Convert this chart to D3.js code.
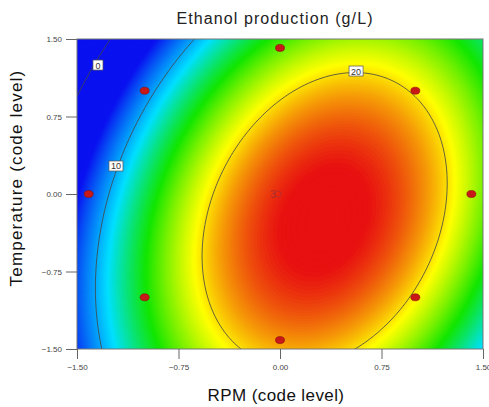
<!DOCTYPE html>
<html lang="en">
<head>
<meta charset="utf-8">
<title>Ethanol production contour</title>
<script src="https://cdn.jsdelivr.net/npm/d3@7"></script>
<style>
  body { margin: 0; background: #fff; }
  svg text { font-family: "Liberation Sans", Arial, sans-serif; }
</style>
</head>
<body>
<div id="chart"></div>
<script>
// quadratic response surface in coded units: [b0, b(RPM), b(Temp), b(RPM^2), b(Temp^2), b(RPM*Temp)]
var coefs = [23.17, 3.84, -1.59, -5.2, -2.1, 1.64];

// design points (RPM, Temp) in code level
var designX = [0, -1, 1, -1.414, 1.414, -1, 1, 0];
var designY = [1.414, 1, 1, 0, 0, -1, -1, -1.414];

var tickVals = [-1.5, -0.75, 0, 0.75, 1.5];
var lineLevels = [0, 10, 20];
var labelX = [-1.345, -1.212, 0.562];
var labelY = [1.248, 0.271, 1.19];
var colorStops = [6, 11.5, 15.5, 19.5, 23.5];
var colorRange = ["#0a12f0", "#00e0ff", "#12e600", "#ffff00", "#e81010"];

var w = 489, h = 407;
var plotL = 77, plotR = 483, plotT = 39, plotB = 349;

var xScale = d3.scaleLinear().domain([-1.5, 1.5]).range([plotL, plotR]);
var yScale = d3.scaleLinear().domain([-1.5, 1.5]).range([plotB, plotT]);
var color = d3.scaleLinear().domain(colorStops).range(colorRange).clamp(true);

function model(x, y) {
  return coefs[0] + coefs[1]*x + coefs[2]*y + coefs[3]*x*x + coefs[4]*y*y + coefs[5]*x*y;
}

// grid for contouring
var nx = 204, ny = 156;
var sx = 3/(nx-1), sy = 3/(ny-1);
var values = new Array(nx*ny);
for (var j = 0; j < ny; j++) {
  for (var i = 0; i < nx; i++) {
    values[j*nx + i] = model(-1.5 + i*sx, -1.5 + j*sy);
  }
}

var proj = d3.geoTransform({
  point: function(cx, cy) {
    this.stream.point(xScale(-1.5 + (cx - 0.5)*sx), yScale(-1.5 + (cy - 0.5)*sy));
  }
});
var path = d3.geoPath(proj);

var svg = d3.select("#chart").append("svg")
  .attr("width", w).attr("height", h);

svg.append("clipPath").attr("id", "plotclip")
  .append("rect").attr("x", plotL).attr("y", plotT)
  .attr("width", plotR-plotL).attr("height", plotB-plotT);

var plot = svg.append("g").attr("clip-path", "url(#plotclip)");

// filled colour bands
var ext = d3.extent(values);
var step = 0.1;
var bandThr = d3.range(Math.floor(ext[0]) - 1, Math.ceil(ext[1]) + step, step);
plot.append("g").selectAll("path")
  .data(d3.contours().size([nx, ny]).thresholds(bandThr)(values))
  .enter().append("path")
  .attr("d", path)
  .attr("fill", function(d) { return color(d.value + step/2); })
  .attr("stroke", function(d) { return color(d.value + step/2); })
  .attr("stroke-width", 0.4);

// contour lines
plot.append("g").selectAll("path")
  .data(d3.contours().size([nx, ny]).thresholds(lineLevels)(values))
  .enter().append("path")
  .attr("d", path)
  .attr("fill", "none")
  .attr("stroke", "#444")
  .attr("stroke-width", 0.8);

// contour labels
var labs = plot.append("g").selectAll("g")
  .data(lineLevels).enter().append("g")
  .attr("transform", function(d, i) { return "translate(" + xScale(labelX[i]) + "," + yScale(labelY[i]) + ")"; });
labs.append("rect")
  .attr("x", function(d) { return d < 10 ? -5 : -7; })
  .attr("y", -5)
  .attr("width", function(d) { return d < 10 ? 10 : 14; })
  .attr("height", 10)
  .attr("fill", "#fff").attr("stroke", "#555").attr("stroke-width", 0.7);
labs.append("text")
  .attr("text-anchor", "middle").attr("y", 3.5)
  .style("font-size", "9px").attr("fill", "#333")
  .text(function(d) { return d; });

// design points
plot.append("g").selectAll("ellipse")
  .data(designX).enter().append("ellipse")
  .attr("cx", function(d) { return xScale(d); })
  .attr("cy", function(d, i) { return yScale(designY[i]); })
  .attr("rx", 4.5).attr("ry", 3.5)
  .attr("fill", "#c81818").attr("stroke", "#8a0c0c").attr("stroke-width", 0.6);

// center point replicates
plot.append("text")
  .attr("x", xScale(0) - 7).attr("y", yScale(0) + 3.5)
  .attr("text-anchor", "middle")
  .style("font-size", "10px").attr("fill", "#a83030")
  .text("3");
plot.append("ellipse")
  .attr("cx", xScale(0) - 2).attr("cy", yScale(0))
  .attr("rx", 3).attr("ry", 3.2)
  .attr("fill", "none").attr("stroke", "#b03030").attr("stroke-width", 0.8);

// frame
svg.append("rect").attr("x", plotL).attr("y", plotT)
  .attr("width", plotR-plotL).attr("height", plotB-plotT)
  .attr("fill", "none").attr("stroke", "#777").attr("stroke-width", 1);

// axes
var xAxis = d3.axisBottom(xScale).tickValues(tickVals).tickSize(10).tickPadding(5)
  .tickFormat(d3.format(".2f"));
var yAxis = d3.axisLeft(yScale).tickValues(tickVals).tickSize(11).tickPadding(4)
  .tickFormat(d3.format(".2f"));

var gx = svg.append("g").attr("transform", "translate(0," + plotB + ")").call(xAxis);
var gy = svg.append("g").attr("transform", "translate(" + plotL + ",0)").call(yAxis);
[gx, gy].forEach(function(g) {
  g.select(".domain").remove();
  g.selectAll(".tick line").attr("stroke", "#666");
  g.selectAll(".tick text").attr("fill", "#444")
    .style("font-size", "8px").style("font-family", "Liberation Sans, Arial, sans-serif");
});

// titles
svg.append("text").attr("x", 275).attr("y", 24)
  .attr("text-anchor", "middle").style("font-size", "16px").style("letter-spacing", "1.1px")
  .attr("fill", "#222")
  .text("Ethanol production (g/L)");
svg.append("text").attr("x", 276).attr("y", 401)
  .attr("text-anchor", "middle").style("font-size", "17px").style("letter-spacing", "0.4px")
  .attr("fill", "#111")
  .text("RPM (code level)");
svg.append("text").attr("transform", "translate(22,178) rotate(-90)")
  .attr("text-anchor", "middle").style("font-size", "17px").style("letter-spacing", "1.2px")
  .attr("fill", "#111")
  .text("Temperature (code level)");
</script>
</body>
</html>
